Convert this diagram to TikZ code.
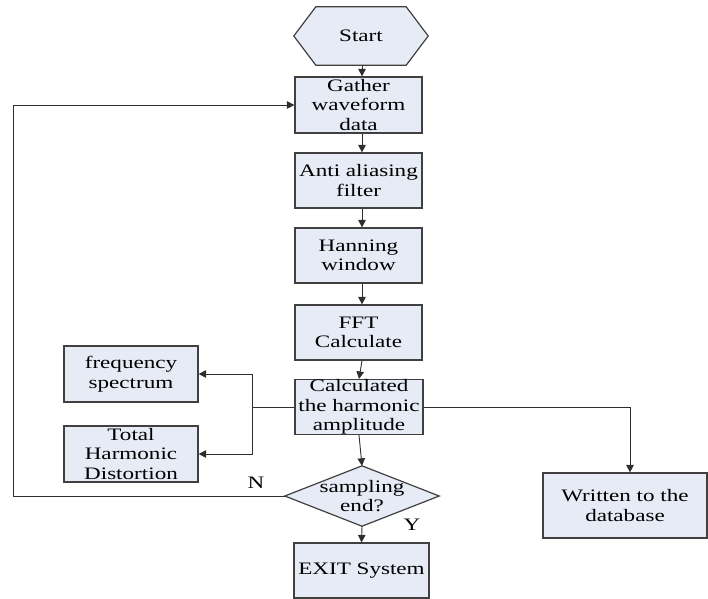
\documentclass[tikz,border=0pt]{standalone}
\usepackage{fontspec}
\setmainfont[FakeStretch=1.32]{Liberation Serif}
\usetikzlibrary{arrows.meta,calc,backgrounds}
\definecolor{boxfill}{HTML}{E6EBF6}
\definecolor{boxline}{HTML}{404040}
\definecolor{lineclr}{HTML}{2E2E2E}
\newcommand{\fsz}{\fontsize{17.5pt}{19.5pt}\selectfont}
\tikzset{
  box/.style={draw=boxline, fill=boxfill, line width=1.2pt, align=center, inner sep=0pt, font=\fsz},
  plain/.style={align=center, inner sep=0pt, font=\fsz},
  shapeline/.style={draw=boxline, fill=boxfill, line width=1.2pt},
  conn/.style={draw=lineclr, line width=0.9pt},
  arr/.style={conn, -{Triangle[length=7.5pt,width=7.5pt]}},
  lbl/.style={inner sep=0pt, font=\fsz}
}
\begin{document}
\begin{tikzpicture}[x=1pt,y=-1pt]
\useasboundingbox (0,0) rectangle (708,598);
% nodes
\node[plain, minimum width=134pt, minimum height=58pt] (start) at (361,36) {Start};
\node[box, minimum width=127pt, minimum height=56pt] (gather) at (358.5,105) {Gather\\waveform\\data};
\node[box, minimum width=127pt, minimum height=55pt] (anti) at (358.5,180.5) {Anti aliasing\\filter};
\node[box, minimum width=127pt, minimum height=55pt] (hann) at (358.5,255.5) {Hanning\\window};
\node[box, minimum width=127pt, minimum height=55pt] (fft) at (358.5,332.5) {FFT\\Calculate};
\node[box, minimum width=128pt, minimum height=54pt] (calc) at (359,407) {Calculated\\the harmonic\\amplitude};
\node[box, minimum width=134pt, minimum height=56pt] (freq) at (131,374) {frequency\\spectrum};
\node[box, minimum width=134pt, minimum height=56pt] (thd) at (131,454) {Total\\Harmonic\\Distortion};
\node[plain, minimum width=154pt, minimum height=60pt] (dec) at (362,496) {sampling\\end?};
\node[box, minimum width=135pt, minimum height=55pt] (exit) at (361.5,570.5) {EXIT System};
\node[box, minimum width=164pt, minimum height=65pt] (written) at (625,505.5) {Written to the\\database};
\node[lbl] (nlab) at (256,483) {N};
\node[lbl] (ylab) at (412,525) {Y};
% custom shapes on background
\begin{scope}[on background layer]
\draw[shapeline] (start.west) -- ([xshift=22pt]start.north west) -- ([xshift=-22pt]start.north east) -- (start.east) -- ([xshift=-22pt]start.south east) -- ([xshift=22pt]start.south west) -- cycle;
\draw[shapeline] (dec.west) -- (dec.north) -- (dec.east) -- (dec.south) -- cycle;
\end{scope}
% connectors
\coordinate (ax) at (362,0);
\coordinate (br) at (252,407);
\coordinate (lp) at (13,496);
\coordinate (wt) at ([xshift=5pt]written.north);
\draw[arr] (ax |- start.south) -- (ax |- gather.north);
\draw[arr] (ax |- gather.south) -- (ax |- anti.north);
\draw[arr] (ax |- anti.south) -- (ax |- hann.north);
\draw[arr] (ax |- hann.south) -- (ax |- fft.north);
\draw[arr] (ax |- fft.south) -- (calc.north);
\draw[arr] (calc.south) -- (dec.north);
\draw[arr] (dec.south) -- (exit.north);
\draw[conn] (calc.west) -- (br);
\draw[arr] (br) |- (freq.east);
\draw[arr] (br) |- (thd.east);
\draw[arr] (calc.east) -| (wt);
\draw[arr] (dec.west) -- (lp) |- (gather.west);
\end{tikzpicture}
\end{document}
